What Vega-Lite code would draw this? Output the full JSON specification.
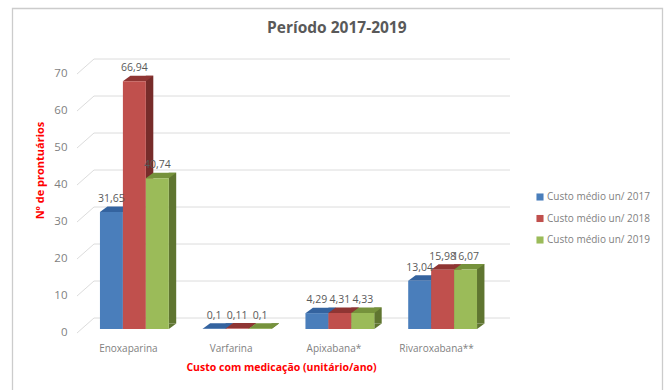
{
  "$schema": "https://vega.github.io/schema/vega-lite/v6.json",
  "width": 411,
  "height": 259,
  "autosize": "none",
  "padding": {"left": 83, "top": 70, "right": 173, "bottom": 61},
  "background": "white",
  "config": {"view": {"stroke": null}, "font": "Open Sans"},
  "title": {
    "text": "Período 2017-2019",
    "anchor": "start",
    "frame": "group",
    "dx": 184,
    "offset": 33,
    "dy": 64,
    "font": "Open Sans",
    "fontSize": 15.5,
    "fontWeight": "bold",
    "color": "#595959"
  },
  "datasets": {
    "custos": [
      {"medicamento": "Enoxaparina", "serie": "Custo médio un/ 2017", "custo": 31.65, "rotulo": "31,65"},
      {"medicamento": "Enoxaparina", "serie": "Custo médio un/ 2018", "custo": 66.94, "rotulo": "66,94"},
      {"medicamento": "Enoxaparina", "serie": "Custo médio un/ 2019", "custo": 40.74, "rotulo": "40,74"},
      {"medicamento": "Varfarina", "serie": "Custo médio un/ 2017", "custo": 0.1, "rotulo": "0,1"},
      {"medicamento": "Varfarina", "serie": "Custo médio un/ 2018", "custo": 0.11, "rotulo": "0,11"},
      {"medicamento": "Varfarina", "serie": "Custo médio un/ 2019", "custo": 0.1, "rotulo": "0,1"},
      {"medicamento": "Apixabana*", "serie": "Custo médio un/ 2017", "custo": 4.29, "rotulo": "4,29"},
      {"medicamento": "Apixabana*", "serie": "Custo médio un/ 2018", "custo": 4.31, "rotulo": "4,31"},
      {"medicamento": "Apixabana*", "serie": "Custo médio un/ 2019", "custo": 4.33, "rotulo": "4,33"},
      {"medicamento": "Rivaroxabana**", "serie": "Custo médio un/ 2017", "custo": 13.04, "rotulo": "13,04"},
      {"medicamento": "Rivaroxabana**", "serie": "Custo médio un/ 2018", "custo": 15.98, "rotulo": "15,98"},
      {"medicamento": "Rivaroxabana**", "serie": "Custo médio un/ 2019", "custo": 16.07, "rotulo": "16,07"}
    ],
    "grade": [
      {"nivel": 0}, {"nivel": 10}, {"nivel": 20}, {"nivel": 30},
      {"nivel": 40}, {"nivel": 50}, {"nivel": 60}, {"nivel": 70}
    ]
  },
  "resolve": {"scale": {"color": "independent"}},
  "layer": [
    {
      "description": "Moldura do gráfico, ancorada no meio da escala",
      "data": {"values": [{"moldura": 35}]},
      "mark": {
        "type": "point",
        "shape": "M-276 -191L374 -191L374 196L-276 196Z",
        "size": 4,
        "filled": false,
        "opacity": 1,
        "stroke": "#cccccc",
        "strokeWidth": 1.3
      },
      "encoding": {"y": {"field": "moldura", "type": "quantitative"}}
    },
    {
      "description": "Parede do fundo: diagonal lateral e linha de grade de cada nível",
      "data": {"name": "grade"},
      "mark": {
        "type": "point",
        "shape": "M-211.5 4L-194.5 -11L221.5 -11",
        "size": 4,
        "filled": false,
        "opacity": 1,
        "stroke": "#dcdcdc",
        "strokeWidth": 1
      },
      "encoding": {
        "y": {
          "field": "nivel",
          "type": "quantitative",
          "scale": {"domain": [0, 70], "nice": false},
          "axis": {
            "labels": false,
            "grid": false,
            "domain": false,
            "ticks": false,
            "title": "Nº de prontuários",
            "titleColor": "#ff0000",
            "titleFont": "Open Sans",
            "titleFontSize": 11,
            "titleFontWeight": "bold",
            "titleX": -38,
            "titleY": 100
          }
        }
      }
    },
    {
      "description": "Números da escala vertical, à esquerda da parede",
      "data": {"name": "grade"},
      "mark": {"type": "text", "font": "Open Sans", "fontSize": 11.5, "color": "#7f7f7f", "align": "right", "baseline": "middle", "dx": -221, "dy": 4},
      "encoding": {
        "y": {"field": "nivel", "type": "quantitative"},
        "text": {"field": "nivel", "type": "quantitative"}
      }
    },
    {
      "description": "Face lateral, série 2017",
      "data": {"name": "custos"},
      "transform": [{"filter": "datum.serie === 'Custo médio un/ 2017'"}],
      "mark": {"type": "rule", "strokeWidth": 7.5, "color": "#2c4d7d", "yOffset": -5.5, "y2Offset": -5.5},
      "encoding": {
        "x": {
          "field": "medicamento", "type": "nominal", "sort": null,
          "scale": {"type": "band", "paddingInner": 0.33, "paddingOuter": 0.165},
          "axis": {
            "domain": false,
            "ticks": false,
            "labelAngle": 0,
            "labelPadding": 14,
            "labelOffset": -6,
            "labelFont": "Open Sans",
            "labelFontSize": 10,
            "labelColor": "#7f7f7f",
            "title": "Custo com medicação (unitário/ano)",
            "titleColor": "#ff0000",
            "titleFont": "Open Sans",
            "titleFontSize": 10.5,
            "titleFontWeight": "bold",
            "titleX": 198,
            "titleY": 33
          }
        },
        "xOffset": {"value": 26.7},
        "y": {"field": "custo", "type": "quantitative"},
        "y2": {"datum": 0}
      }
    },
    {
      "description": "Face lateral, série 2018",
      "data": {"name": "custos"},
      "transform": [{"filter": "datum.serie === 'Custo médio un/ 2018'"}],
      "mark": {"type": "rule", "strokeWidth": 7.5, "color": "#772c2a", "yOffset": -5.5, "y2Offset": -5.5},
      "encoding": {
        "x": {"field": "medicamento", "type": "nominal", "sort": null},
        "xOffset": {"value": 49.6},
        "y": {"field": "custo", "type": "quantitative"},
        "y2": {"datum": 0}
      }
    },
    {
      "description": "Face lateral, série 2019",
      "data": {"name": "custos"},
      "transform": [{"filter": "datum.serie === 'Custo médio un/ 2019'"}],
      "mark": {"type": "rule", "strokeWidth": 7.5, "color": "#5f7530", "yOffset": -5.5, "y2Offset": -5.5},
      "encoding": {
        "x": {"field": "medicamento", "type": "nominal", "sort": null},
        "xOffset": {"value": 72.5},
        "y": {"field": "custo", "type": "quantitative"},
        "y2": {"datum": 0}
      }
    },
    {
      "description": "Canto inferior da face lateral",
      "data": {"name": "custos"},
      "mark": {"type": "point", "shape": "M11.5 -5.5L11.5 0L19 -5.5Z", "size": 4, "filled": true, "opacity": 1},
      "encoding": {
        "x": {"field": "medicamento", "type": "nominal", "sort": null},
        "xOffset": {"field": "serie", "type": "nominal", "sort": null},
        "y": {"datum": 0, "type": "quantitative"},
        "color": {
          "field": "serie", "type": "nominal", "legend": null,
          "scale": {"range": ["#2c4d7d", "#772c2a", "#5f7530"]}
        }
      }
    },
    {
      "description": "Face superior das barras",
      "data": {"name": "custos"},
      "mark": {"type": "point", "shape": "M-11.5 0L-4 -5.5L19 -5.5L11.5 0Z", "size": 4, "filled": true, "opacity": 1},
      "encoding": {
        "x": {"field": "medicamento", "type": "nominal", "sort": null},
        "xOffset": {"field": "serie", "type": "nominal", "sort": null},
        "y": {"field": "custo", "type": "quantitative"},
        "color": {
          "field": "serie", "type": "nominal", "legend": null,
          "scale": {"range": ["#34639f", "#8f3533", "#76923c"]}
        }
      }
    },
    {
      "description": "Face frontal das barras",
      "data": {"name": "custos"},
      "mark": {"type": "bar"},
      "encoding": {
        "x": {"field": "medicamento", "type": "nominal", "sort": null},
        "xOffset": {"field": "serie", "type": "nominal", "sort": null},
        "y": {"field": "custo", "type": "quantitative"},
        "color": {
          "field": "serie", "type": "nominal",
          "scale": {"range": ["#4a7ebb", "#c0504d", "#9bbb59"]},
          "legend": {
            "title": null,
            "orient": "none",
            "legendX": 452,
            "legendY": 122,
            "symbolType": "square",
            "symbolSize": 50,
            "symbolStrokeWidth": 0,
            "labelFont": "Open Sans",
            "labelFontSize": 10,
            "labelColor": "#7f7f7f",
            "labelOffset": 2,
            "rowPadding": 11.5
          }
        }
      }
    },
    {
      "description": "Rótulos de valor",
      "data": {"name": "custos"},
      "mark": {"type": "text", "font": "Open Sans", "fontSize": 10.5, "color": "#595959", "baseline": "middle", "dy": -13},
      "encoding": {
        "x": {"field": "medicamento", "type": "nominal", "sort": null},
        "xOffset": {"field": "serie", "type": "nominal", "sort": null},
        "y": {"field": "custo", "type": "quantitative"},
        "text": {"field": "rotulo", "type": "nominal"}
      }
    }
  ]
}
